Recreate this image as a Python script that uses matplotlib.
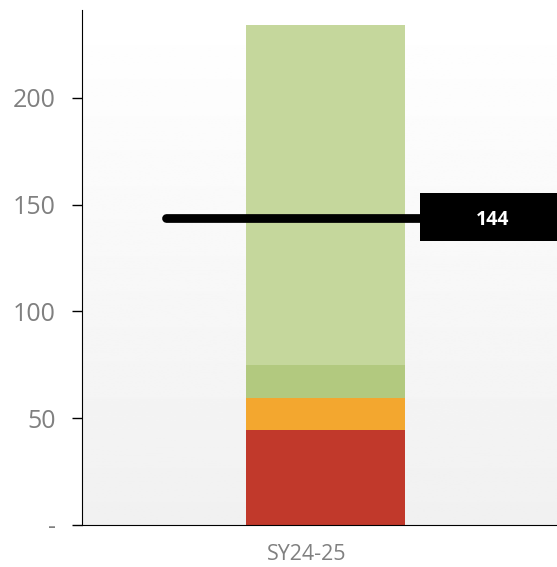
import numpy as np
import matplotlib.pyplot as plt
from matplotlib.patches import Rectangle

# Datos
category = ["SY24-25"]
segments = [44.5, 15, 15.5, 159]          # rojo, naranja, verde, verde claro
seg_colors = ["#C1392B", "#F3A72F", "#B2C97F", "#C5D79C"]
target = 144
yticks = [0, 50, 100, 150, 200]
ytick_labels = ["-", "50", "100", "150", "200"]

fig = plt.figure(figsize=(5.57, 5.67), dpi=100)
ax = fig.add_axes([82 / 557, 42 / 567, 475 / 557, 515 / 567])

# fondo degradado dentro de los ejes
grad = np.linspace(0.943, 1.0, 256).reshape(-1, 1)
ax.imshow(grad, cmap="gray", vmin=0, vmax=1, aspect="auto", origin="lower",
          extent=[0, 1, 0, 1], transform=ax.transAxes, zorder=0)

# barras apiladas
bottom = 0
for val, col in zip(segments, seg_colors):
    ax.bar(0, val, width=0.326, bottom=bottom, color=col, zorder=2)
    bottom += val

# línea objetivo
ax.plot([-0.328, 0.2], [target, target], color="black", lw=6.3,
        solid_capstyle="round", zorder=3)
box = Rectangle((0.194, target - 11.2), 0.3, 22.5, facecolor="black",
                edgecolor="none", clip_on=False, zorder=4)
ax.add_patch(box)
ax.text(0.3437, target - 1, str(target), color="white", fontsize=14,
        fontweight="bold", ha="center", va="center", family="Open Sans",
        zorder=5)

ax.set_xlim(-0.5, 0.475)
ax.set_ylim(0, 241.2)
ax.set_xticks([-0.038])
ax.set_xticklabels(category, family="Open Sans", fontsize=15.5, color="#808080")
ax.set_yticks(yticks)
ax.set_yticklabels(ytick_labels, family="Open Sans", fontsize=18, color="#808080")
ax.tick_params(axis="x", length=0, pad=14)
ax.tick_params(axis="y", length=7, width=1, color="black", pad=12)

for s in ["top", "right"]:
    ax.spines[s].set_visible(False)
ax.spines["left"].set_color("black")
ax.spines["bottom"].set_color("black")

fig.savefig("out.png", dpi=100)
